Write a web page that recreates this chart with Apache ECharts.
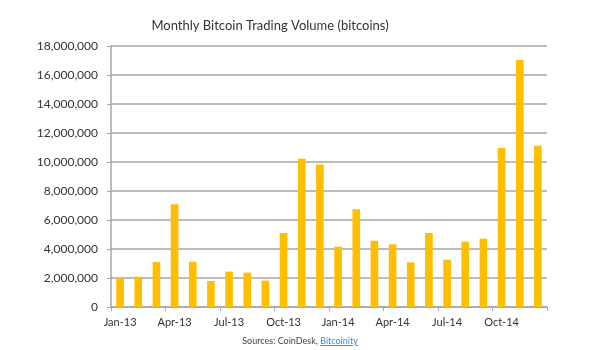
<!DOCTYPE html>
<html>
<head>
<meta charset="utf-8">
<script src="https://cdn.jsdelivr.net/npm/echarts@6/dist/echarts.min.js"></script>
<style>
  html, body { margin: 0; padding: 0; background: #fff; }
  #chart { width: 600px; height: 350px; }
  #source {
    position: absolute; left: 0; top: 335px; width: 600px; text-align: center;
    font-family: Lato, "Open Sans", sans-serif; font-size: 9px; color: #444;
  }
  #source a { color: #3a8fd8; text-decoration: underline; }
</style>
</head>
<body>
<div id="chart"></div>
<div id="source">Sources: CoinDesk, <a>Bitcoinity</a></div>
<script>
// 月份类别
var months = [
  'Jan-13', 'Feb-13', 'Mar-13', 'Apr-13', 'May-13', 'Jun-13',
  'Jul-13', 'Aug-13', 'Sep-13', 'Oct-13', 'Nov-13', 'Dec-13',
  'Jan-14', 'Feb-14', 'Mar-14', 'Apr-14', 'May-14', 'Jun-14',
  'Jul-14', 'Aug-14', 'Sep-14', 'Oct-14', 'Nov-14', 'Dec-14'
];

// 每月交易量（比特币）
var volume = [
  1980000, 2090000, 3100000, 7080000, 3120000, 1790000,
  2440000, 2370000, 1820000, 5100000, 10230000, 9820000,
  4160000, 6740000, 4570000, 4330000, 3080000, 5100000,
  3260000, 4500000, 4710000, 10970000, 17030000, 11120000
];

var chart = echarts.init(document.getElementById('chart'));

var FONT = 'Lato, "Open Sans", sans-serif';
var GRID_COLOR = '#a6a6a6';

chart.setOption({
  animation: false,
  title: {
    text: 'Monthly Bitcoin Trading Volume (bitcoins)',
    left: 265,
    textAlign: 'center',
    top: 14,
    textStyle: { fontFamily: FONT, fontSize: 13, fontWeight: 'normal', color: '#333' }
  },
  grid: { left: 111, right: 53, top: 46, bottom: 43, containLabel: false },
  xAxis: {
    type: 'category',
    data: months,
    boundaryGap: true,
    axisLine: { lineStyle: { color: GRID_COLOR, width: 1.5 } },
    axisTick: { show: true, interval: 2, length: 4, lineStyle: { color: GRID_COLOR } },
    axisLabel: { interval: 2, margin: 10, fontFamily: FONT, fontSize: 11, color: '#333' }
  },
  yAxis: {
    type: 'value',
    min: 0,
    max: 18000000,
    interval: 2000000,
    axisLine: { show: true, lineStyle: { color: GRID_COLOR, width: 1.5 } },
    axisTick: { show: true, length: 4, lineStyle: { color: GRID_COLOR } },
    splitLine: { lineStyle: { color: GRID_COLOR, width: 1.5 } },
    axisLabel: {
      margin: 13,
      fontFamily: FONT,
      fontSize: 12,
      color: '#333',
      formatter: function (v) { return v.toLocaleString('en-US'); }
    }
  },
  series: [{
    type: 'bar',
    data: volume,
    barWidth: '42%',
    itemStyle: { color: '#ffbe00' }
  }]
});
</script>
</body>
</html>
